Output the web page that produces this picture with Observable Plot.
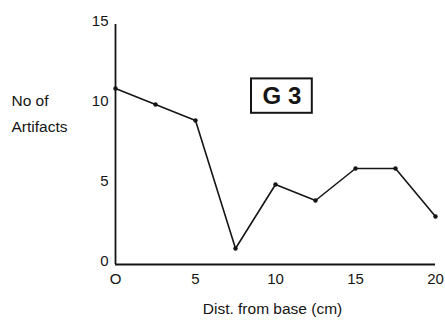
<!DOCTYPE html>
<html><head><meta charset="utf-8">
<script src="https://cdn.jsdelivr.net/npm/d3@7"></script>
<script src="https://cdn.jsdelivr.net/npm/@observablehq/plot@0.6"></script>
<style>body{margin:0;background:#fff;} svg{font-family:"Liberation Sans",Arial,sans-serif;}</style>
</head><body><div id="chart"></div>
<script>
const distance = [0, 2.5, 5, 7.5, 10, 12.5, 15, 17.5, 20];
const artifacts = [11, 10, 9, 1, 5, 4, 6, 6, 3];
const xTicks = [0, 5, 10, 15, 20];
const xTickLabels = ["O", "5", "10", "15", "20"];
const yTicks = [0, 5, 10, 15];
const yTickLabels = ["0", "5", "10", "15"];
const xLabel = "Dist. from base (cm)";
const yLabel = "No of\nArtifacts";
const annotation = [{x1: 8.5, x2: 12.3, y1: 9.45, y2: 11.6, x: 10.4, y: 10.52, label: "G 3"}];

const data = distance.map((d, i) => ({x: d, y: artifacts[i]}));
const ink = "#151515";

const chart = Plot.plot({
  width: 445, height: 321,
  marginLeft: 115, marginRight: 10, marginTop: 24, marginBottom: 57,
  style: {background: "#fff", color: ink},
  x: {domain: [0, 20]},
  y: {domain: [0, 15]},
  marks: [
    Plot.ruleY([0], {stroke: ink, strokeWidth: 1.8}),
    Plot.ruleX([0], {y1: 0, y2: 15, stroke: ink, strokeWidth: 1.8}),
    Plot.axisX({ticks: xTicks, tickSize: 0, tickPadding: 9, fontSize: 15, label: null,
      tickFormat: (d) => xTickLabels[xTicks.indexOf(d)], fill: ink}),
    Plot.axisY({ticks: yTicks, tickSize: 0, tickPadding: 7, fontSize: 15, label: null,
      tickFormat: (d) => yTickLabels[yTicks.indexOf(d)], fill: ink, dy: -3}),
    Plot.text([xLabel], {frameAnchor: "bottom", dy: 49, dx: -3, fontSize: 15.5, fill: ink, letterSpacing: "0.6px"}),
    Plot.text([yLabel], {frameAnchor: "left", x: 0, y: 9.6, dx: -104, textAnchor: "start", lineHeight: 1.65, fontSize: 15.5, fill: ink, letterSpacing: "0.8px"}),
    Plot.line(data, {x: "x", y: "y", stroke: ink, strokeWidth: 1.6}),
    Plot.dot(data, {x: "x", y: "y", r: 2.2, fill: ink}),
    Plot.rect(annotation, {x1: "x1", x2: "x2", y1: "y1", y2: "y2", fill: "none", stroke: ink, strokeWidth: 2}),
    Plot.text(annotation, {x: "x", y: "y", text: "label", fontSize: 24, fontWeight: "bold", fill: ink, letterSpacing: "2px"})
  ]
});
document.getElementById("chart").appendChild(chart);
</script>
</body></html>
